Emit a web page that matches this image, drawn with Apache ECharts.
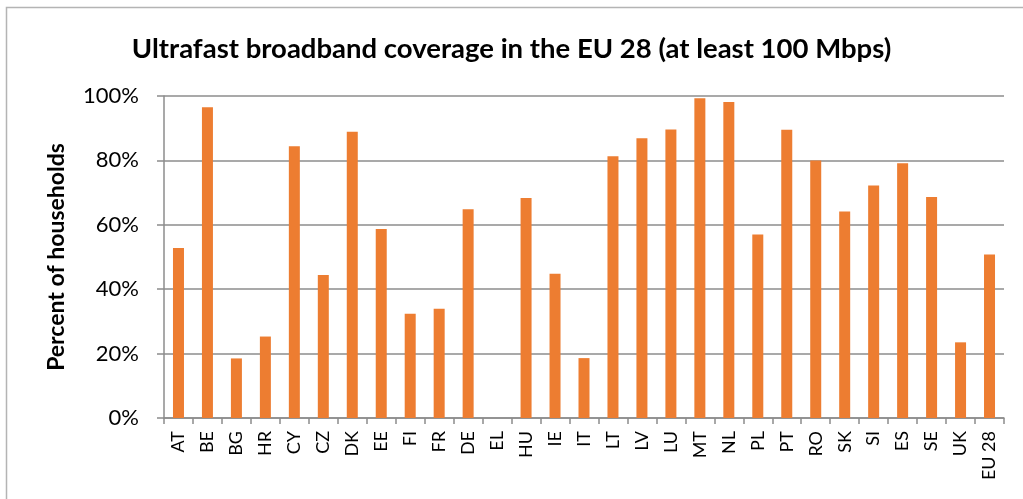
<!DOCTYPE html>
<html>
<head>
<meta charset="utf-8">
<script src="https://cdn.jsdelivr.net/npm/echarts@6/dist/echarts.min.js"></script>
<style>
  html, body { margin: 0; padding: 0; background: #ffffff; }
  #chart { width: 1023px; height: 499px; }
</style>
</head>
<body>
<div id="chart"></div>
<script>
// Country codes along the category axis
const countries = ['AT', 'BE', 'BG', 'HR', 'CY', 'CZ', 'DK', 'EE', 'FI', 'FR', 'DE', 'EL', 'HU', 'IE', 'IT',
  'LT', 'LV', 'LU', 'MT', 'NL', 'PL', 'PT', 'RO', 'SK', 'SI', 'ES', 'SE', 'UK', 'EU 28'];

// Share of households covered by 100 Mbps+ broadband (%)
const coverage = [52.8, 96.5, 18.5, 25.3, 84.4, 44.4, 88.9, 58.7, 32.4, 33.9, 64.8, 0, 68.3, 44.8, 18.6,
  81.3, 86.9, 89.6, 99.3, 98.1, 57.0, 89.5, 80.0, 64.1, 72.2, 79.1, 68.6, 23.5, 50.8];

// Value axis ticks (%)
const yTicks = [0, 20, 40, 60, 80, 100];

const FONT = 'Lato, "Open Sans", sans-serif';
const GRID_GRAY = '#8c8c8c';

const chart = echarts.init(document.getElementById('chart'), null, { renderer: 'canvas' });

chart.setOption({
  animation: false,
  backgroundColor: '#ffffff',
  title: {
    text: 'Ultrafast broadband coverage in the EU 28 (at least 100 Mbps)',
    left: 'center',
    top: 30,
    textStyle: { fontFamily: FONT, fontWeight: 'bold', fontSize: 27.5, color: '#000000' }
  },
  graphic: [{
    type: 'rect',
    silent: true,
    shape: { x: 6.5, y: 7.5, width: 1040, height: 520 },
    style: { fill: 'none', stroke: '#b4b4b4', lineWidth: 1.5 }
  }],
  grid: { left: 164, right: 19, top: 96, bottom: 81 },
  xAxis: {
    type: 'category',
    data: countries,
    axisLine: { lineStyle: { color: GRID_GRAY, width: 1.5 } },
    axisTick: { show: true, alignWithLabel: false, length: 6, lineStyle: { color: GRID_GRAY, width: 1.5 } },
    axisLabel: {
      rotate: 90,
      interval: 0,
      margin: 13,
      fontFamily: FONT,
      fontSize: 18,
      color: '#000000'
    }
  },
  yAxis: {
    type: 'value',
    min: yTicks[0],
    max: yTicks[yTicks.length - 1],
    interval: yTicks[1] - yTicks[0],
    name: 'Percent of households',
    nameLocation: 'middle',
    nameGap: 96,
    nameRotate: 90,
    nameTextStyle: { fontFamily: FONT, fontWeight: 'bold', fontSize: 23, color: '#000000' },
    axisLine: { show: true, lineStyle: { color: GRID_GRAY, width: 1.5 } },
    axisTick: { show: true, length: 7, lineStyle: { color: GRID_GRAY, width: 1.5 } },
    splitLine: { lineStyle: { color: GRID_GRAY, width: 1.5 } },
    axisLabel: {
      formatter: '{value}%',
      margin: 25,
      fontFamily: FONT,
      fontSize: 22,
      color: '#000000'
    }
  },
  series: [{
    type: 'bar',
    data: coverage,
    barWidth: 11,
    itemStyle: { color: '#ED7D31' }
  }]
});
</script>
</body>
</html>
